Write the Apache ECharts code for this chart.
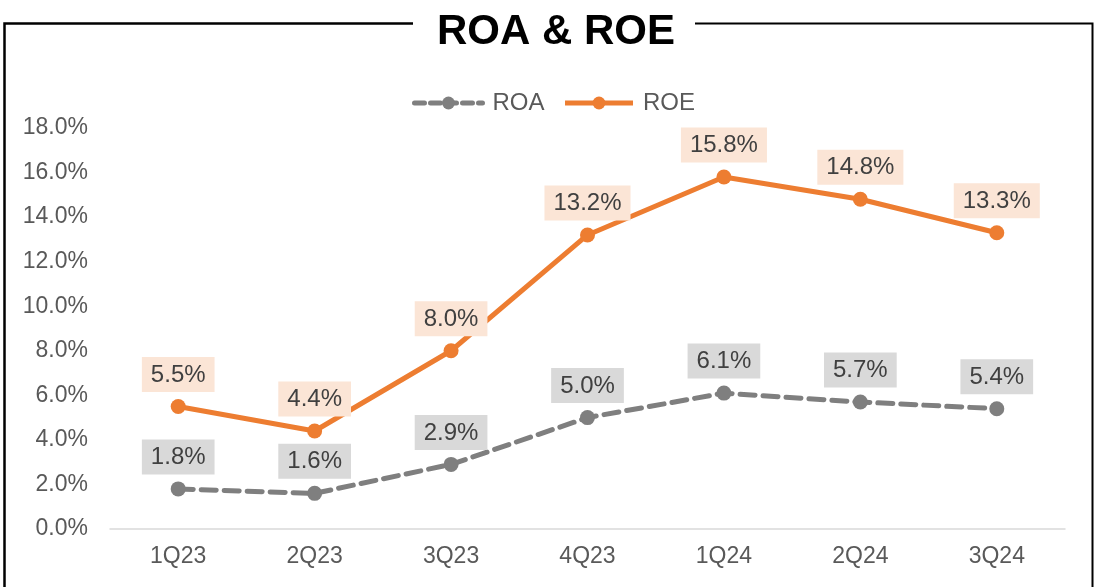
<!DOCTYPE html>
<html>
<head>
<meta charset="utf-8">
<script src="https://cdn.jsdelivr.net/npm/echarts@6/dist/echarts.min.js"></script>
<style>html,body{margin:0;padding:0;background:#fff;}#c{width:1094px;height:587px;}</style>
</head>
<body>
<div id="c"></div>
<script>
var categories = ['1Q23','2Q23','3Q23','4Q23','1Q24','2Q24','3Q24'];
var roa = [1.8, 1.6, 2.9, 5.0, 6.1, 5.7, 5.4];
var roe = [5.5, 4.4, 8.0, 13.2, 15.8, 14.8, 13.3];
var FONT = '"Liberation Sans", Arial, sans-serif';
var chart = echarts.init(document.getElementById('c'));
function lbl(bg){
  return {show:true, position:'top', distance:7, formatter:function(p){return p.value.toFixed(1)+'%';},
    backgroundColor:bg, padding:[6,9,5,9], lineHeight:24, color:'#404040', fontSize:24, fontFamily:FONT};
}
chart.setOption({
  animation:false,
  title:{text:'ROA & ROE', left:432, top:6, textStyle:{fontSize:42, fontWeight:'bold', color:'#000', fontFamily:FONT}},
  graphic:[
    {type:'polyline', shape:{points:[[413,23.5],[4.5,23.5],[4.5,600]]}, style:{stroke:'#000', lineWidth:2.5, fill:null}},
    {type:'polyline', shape:{points:[[695,23.5],[1092.5,23.5],[1092.5,600]]}, style:{stroke:'#000', lineWidth:2, fill:null}}
  ],
  legend:{top:86, left:407, itemWidth:68, itemHeight:16, itemGap:18,
    textStyle:{fontSize:24, color:'#595959', fontFamily:FONT, padding:[0,0,0,5]},
    data:[
      {name:'ROA', lineStyle:{width:5, color:'#7f7f7f', type:[10,6], cap:'round'}},
      {name:'ROE', lineStyle:{width:5, color:'#ed7d31'}}
    ]},
  grid:{left:110, right:29, top:128, bottom:58},
  xAxis:{type:'category', data:categories, boundaryGap:true,
    axisLine:{lineStyle:{color:'#d9d9d9', width:1.5}}, axisTick:{show:false},
    axisLabel:{fontSize:23, color:'#595959', fontFamily:FONT, margin:16}},
  yAxis:{type:'value', min:0, max:18, interval:2, splitLine:{show:false}, axisLine:{show:false}, axisTick:{show:false},
    axisLabel:{fontSize:23, color:'#595959', fontFamily:FONT, margin:22, formatter:function(v){return v.toFixed(1)+'%';}}},
  series:[
    {name:'ROA', type:'line', data:roa, symbol:'circle', symbolSize:15,
      lineStyle:{color:'#7f7f7f', width:5, type:[15,8], cap:'round'}, itemStyle:{color:'#7f7f7f'},
      label:lbl('#d9d9d9')},
    {name:'ROE', type:'line', data:roe, symbol:'circle', symbolSize:15,
      lineStyle:{color:'#ed7d31', width:5}, itemStyle:{color:'#ed7d31'},
      label:lbl('#fbe5d6')}
  ]
});
</script>
</body>
</html>
